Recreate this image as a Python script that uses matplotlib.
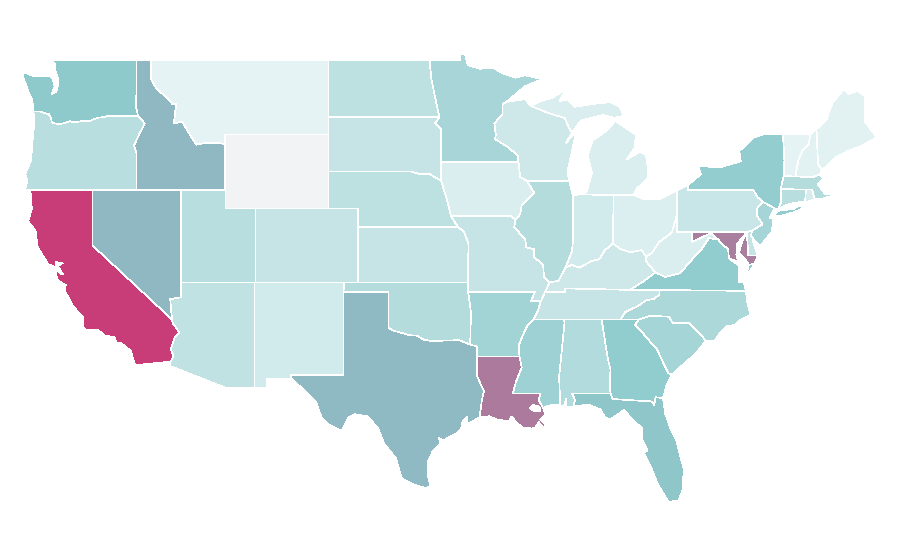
import matplotlib
matplotlib.use('Agg')
import matplotlib.pyplot as plt
from matplotlib.colors import LinearSegmentedColormap, Normalize

# rough value per state, read back from the fill colours
state_names = ['WA', 'OR', 'CA', 'NV', 'ID', 'MT', 'WY', 'UT', 'CO', 'AZ', 'NM', 'TX',
               'OK', 'KS', 'NE', 'SD', 'ND', 'MN', 'IA', 'MO', 'AR', 'LA', 'MS', 'AL',
               'GA', 'FL', 'SC', 'NC', 'TN', 'KY', 'IL', 'WI', 'MI', 'IN', 'OH', 'WV',
               'VA', 'MD', 'DE', 'PA', 'NJ', 'NY', 'CT', 'RI', 'MA', 'VT', 'NH', 'ME']
state_values = [40, 25, 100, 49, 49, 10, 0, 25, 21, 23, 17, 48,
                27, 21, 24, 21, 24, 31, 14, 21, 33, 70, 35, 28,
                39, 42, 32, 30, 21, 18, 27, 18, 14, 17, 13, 14,
                39, 68, 21, 20, 32, 38, 25, 15, 27, 10, 11, 11]

# colour scale
scale_values = [0, 10, 40, 50, 70, 100]
scale_colors = ['#F2F3F5', '#E5F3F4', '#8ECACC', '#8FB6C1', '#AB7A9C', '#C83C77']

# state outlines, (lon, lat)
outlines = {
    'WA': [[(-122.76, 49.0), (-117.03, 49.0), (-117.04, 46.42), (-116.92, 46.0), (-118.98, 46.0), (-119.3, 45.93),
            (-119.6, 45.92), (-120.2, 45.73), (-120.65, 45.74), (-121.2, 45.65), (-121.5, 45.72), (-122.0, 45.6),
            (-122.3, 45.55), (-122.75, 45.65), (-122.8, 45.9), (-122.95, 46.1), (-123.2, 46.15), (-123.55, 46.25),
            (-123.98, 46.25), (-124.05, 46.7), (-124.1, 46.9), (-124.35, 47.35), (-124.7, 48.15), (-124.72, 48.38),
            (-124.0, 48.17), (-123.1, 48.15), (-122.75, 48.12), (-122.55, 47.6), (-122.75, 47.2), (-122.45, 47.3),
            (-122.35, 47.6), (-122.3, 47.95), (-122.5, 48.4), (-122.5, 48.75)]],
    'OR': [[(-124.55, 42.0), (-117.03, 42.0), (-117.03, 44.0), (-117.2, 44.4), (-116.85, 45.0), (-116.47, 45.6),
            (-116.92, 46.0), (-118.98, 46.0), (-119.3, 45.93), (-119.6, 45.92), (-120.2, 45.73), (-120.65, 45.74),
            (-121.2, 45.65), (-121.5, 45.72), (-122.0, 45.6), (-122.3, 45.55), (-122.75, 45.65), (-122.8, 45.9),
            (-122.95, 46.1), (-123.2, 46.15), (-123.55, 46.25), (-123.98, 46.25), (-123.95, 45.5), (-124.05, 44.7),
            (-124.15, 43.6), (-124.55, 42.84), (-124.4, 42.5)]],
    'CA': [[(-124.2, 42.0), (-120.0, 42.0), (-120.0, 39.0), (-114.63, 35.0), (-114.57, 34.8), (-114.14, 34.3),
            (-114.43, 34.05), (-114.72, 33.4), (-114.52, 33.03), (-114.72, 32.72), (-117.12, 32.53), (-117.25, 32.85),
            (-117.4, 33.3), (-118.1, 33.75), (-118.4, 33.75), (-118.5, 34.03), (-119.2, 34.15), (-119.6, 34.42),
            (-120.5, 34.45), (-120.65, 34.6), (-120.65, 35.15), (-121.3, 35.7), (-121.9, 36.6), (-121.8, 36.85),
            (-122.05, 36.95), (-122.4, 37.2), (-122.5, 37.75), (-122.1, 37.45), (-122.0, 37.45), (-122.35, 37.9),
            (-122.0, 38.05), (-122.5, 38.1), (-122.5, 37.83), (-123.0, 38.0), (-123.7, 38.9), (-123.85, 39.8),
            (-124.35, 40.3), (-124.1, 41.0)],
           [(-120.1, 34.05), (-119.9, 34.07), (-119.9, 33.95), (-120.1, 33.93)],
           [(-119.75, 34.05), (-119.55, 34.05), (-119.55, 33.98), (-119.75, 33.98)],
           [(-118.5, 33.42), (-118.35, 33.4), (-118.35, 33.33), (-118.5, 33.35)]],
    'NV': [[(-120.0, 42.0), (-114.04, 42.0), (-114.04, 36.2), (-114.75, 36.1), (-114.63, 35.0), (-120.0, 39.0)]],
    'ID': [[(-117.03, 49.0), (-116.05, 49.0), (-116.05, 48.0), (-115.7, 47.5), (-115.0, 47.0), (-114.6, 46.65),
            (-114.35, 46.65), (-114.5, 45.6), (-113.95, 45.7), (-113.5, 45.1), (-113.0, 44.45), (-112.3, 44.55),
            (-111.5, 44.55), (-111.05, 44.47), (-111.05, 42.0), (-117.03, 42.0), (-117.03, 44.0), (-117.2, 44.4),
            (-116.85, 45.0), (-116.47, 45.6), (-116.92, 46.0), (-117.04, 46.42)]],
    'MT': [[(-116.05, 49.0), (-104.05, 49.0), (-104.05, 45.0), (-111.05, 45.0), (-111.05, 44.47), (-111.5, 44.55),
            (-112.3, 44.55), (-113.0, 44.45), (-113.5, 45.1), (-113.95, 45.7), (-114.5, 45.6), (-114.35, 46.65),
            (-114.6, 46.65), (-115.0, 47.0), (-115.7, 47.5), (-116.05, 48.0)]],
    'WY': [[(-111.05, 45.0), (-104.05, 45.0), (-104.05, 41.0), (-111.05, 41.0)]],
    'UT': [[(-114.04, 42.0), (-111.05, 42.0), (-111.05, 41.0), (-109.05, 41.0), (-109.05, 37.0), (-114.04, 37.0)]],
    'CO': [[(-109.05, 41.0), (-102.05, 41.0), (-102.05, 37.0), (-109.05, 37.0)]],
    'AZ': [[(-114.04, 37.0), (-109.05, 37.0), (-109.05, 31.33), (-111.07, 31.33), (-114.81, 32.5), (-114.72, 32.72),
            (-114.52, 33.03), (-114.72, 33.4), (-114.43, 34.05), (-114.14, 34.3), (-114.57, 34.8), (-114.63, 35.0),
            (-114.75, 36.1), (-114.04, 36.2)]],
    'NM': [[(-109.05, 37.0), (-103.0, 37.0), (-103.04, 32.0), (-106.62, 32.0), (-106.53, 31.78), (-108.2, 31.78),
            (-108.2, 31.33), (-109.05, 31.33)]],
    'TX': [[(-103.04, 36.5), (-100.0, 36.5), (-100.0, 34.56), (-99.7, 34.4), (-99.2, 34.3), (-98.6, 34.15),
            (-98.1, 34.13), (-97.6, 33.9), (-97.2, 33.85), (-96.6, 33.85), (-95.8, 33.87), (-95.2, 33.88),
            (-94.48, 33.64), (-94.04, 33.55), (-94.04, 33.0), (-94.04, 31.99), (-93.8, 31.55), (-93.55, 31.15),
            (-93.7, 30.6), (-93.75, 30.25), (-93.85, 29.7), (-94.7, 29.35), (-94.7, 29.75), (-95.0, 29.5),
            (-95.1, 29.1), (-95.3, 28.9), (-95.9, 28.65), (-96.3, 28.45), (-96.6, 28.6), (-96.5, 28.3), (-97.0, 27.9),
            (-97.35, 27.3), (-97.35, 26.6), (-97.15, 25.96), (-97.55, 25.9), (-98.2, 26.05), (-99.1, 26.4),
            (-99.5, 27.5), (-100.3, 28.3), (-100.7, 29.1), (-101.4, 29.77), (-102.3, 29.88), (-102.7, 29.7),
            (-103.15, 28.98), (-104.0, 29.3), (-104.5, 29.65), (-104.9, 30.55), (-106.0, 31.4), (-106.53, 31.78),
            (-106.62, 32.0), (-103.04, 32.0)]],
    'OK': [[(-103.0, 37.0), (-94.62, 37.0), (-94.62, 36.5), (-94.43, 35.4), (-94.48, 33.64), (-95.2, 33.88),
            (-95.8, 33.87), (-96.6, 33.85), (-97.2, 33.85), (-97.6, 33.9), (-98.1, 34.13), (-98.6, 34.15),
            (-99.2, 34.3), (-99.7, 34.4), (-100.0, 34.56), (-100.0, 36.5), (-103.04, 36.5)]],
    'KS': [[(-102.05, 40.0), (-95.31, 40.0), (-94.9, 39.75), (-94.6, 39.1), (-94.62, 37.0), (-102.05, 37.0)]],
    'NE': [[(-104.05, 43.0), (-98.5, 43.0), (-97.85, 42.85), (-97.2, 42.85), (-96.45, 42.5), (-96.1, 41.6),
            (-95.9, 41.0), (-95.31, 40.0), (-102.05, 40.0), (-102.05, 41.0), (-104.05, 41.0)]],
    'SD': [[(-104.05, 45.94), (-96.56, 45.94), (-96.85, 45.6), (-96.45, 45.3), (-96.45, 43.5), (-96.45, 42.5),
            (-97.2, 42.85), (-97.85, 42.85), (-98.5, 43.0), (-104.05, 43.0)]],
    'ND': [[(-104.05, 49.0), (-97.23, 49.0), (-97.1, 48.0), (-96.85, 47.0), (-96.56, 45.94), (-104.05, 45.94)]],
    'MN': [[(-97.23, 49.0), (-95.15, 49.0), (-95.15, 49.38), (-94.8, 49.3), (-94.65, 48.75), (-93.8, 48.55),
            (-92.95, 48.62), (-92.3, 48.3), (-91.4, 48.07), (-90.8, 48.2), (-89.6, 48.0), (-90.8, 47.6),
            (-92.05, 46.75), (-92.3, 46.65), (-92.3, 46.08), (-92.85, 45.6), (-92.75, 45.0), (-92.8, 44.75),
            (-91.9, 44.3), (-91.25, 43.85), (-91.22, 43.5), (-96.45, 43.5), (-96.45, 45.3), (-96.85, 45.6),
            (-96.56, 45.94), (-96.85, 47.0), (-97.1, 48.0)]],
    'IA': [[(-96.45, 43.5), (-91.22, 43.5), (-91.1, 42.7), (-90.65, 42.5), (-90.15, 41.85), (-91.0, 41.2),
            (-91.1, 40.7), (-91.42, 40.38), (-91.7, 40.6), (-95.77, 40.58), (-95.9, 41.0), (-96.1, 41.6),
            (-96.45, 42.5)]],
    'MO': [[(-95.77, 40.58), (-91.7, 40.6), (-91.42, 40.38), (-91.5, 40.0), (-90.75, 39.3), (-90.7, 38.9),
            (-90.15, 38.8), (-90.2, 38.4), (-89.55, 37.95), (-89.5, 37.3), (-89.13, 37.0), (-89.4, 36.5),
            (-89.7, 36.0), (-90.37, 36.0), (-90.1, 36.5), (-94.62, 36.5), (-94.62, 37.0), (-94.6, 39.1),
            (-94.9, 39.75), (-95.31, 40.0)]],
    'AR': [[(-94.62, 36.5), (-90.1, 36.5), (-90.37, 36.0), (-89.7, 36.0), (-89.9, 35.5), (-90.2, 35.0),
            (-90.6, 34.7), (-90.95, 34.1), (-91.2, 33.6), (-91.15, 33.0), (-94.04, 33.0), (-94.04, 33.55),
            (-94.48, 33.64), (-94.43, 35.4)]],
    'LA': [[(-94.04, 33.0), (-91.15, 33.0), (-91.0, 32.4), (-91.4, 31.6), (-91.6, 31.0), (-89.73, 31.0),
            (-89.85, 30.65), (-89.55, 30.2), (-89.4, 29.85), (-89.75, 29.6), (-89.4, 29.3), (-89.1, 29.0),
            (-89.55, 29.2), (-89.85, 29.45), (-90.1, 29.15), (-90.3, 29.1), (-90.65, 29.15), (-90.95, 29.15),
            (-91.35, 29.45), (-91.7, 29.75), (-91.85, 29.5), (-92.3, 29.55), (-92.7, 29.6), (-93.2, 29.77),
            (-93.85, 29.7), (-93.75, 30.25), (-93.7, 30.6), (-93.55, 31.15), (-93.8, 31.55), (-94.04, 31.99)]],
    'MS': [[(-91.15, 33.0), (-91.2, 33.6), (-90.95, 34.1), (-90.6, 34.7), (-90.2, 35.0), (-88.2, 35.0),
            (-88.1, 34.9), (-88.47, 31.9), (-88.4, 30.35), (-88.85, 30.4), (-89.35, 30.3), (-89.55, 30.2),
            (-89.85, 30.65), (-89.73, 31.0), (-91.6, 31.0), (-91.4, 31.6), (-91.0, 32.4)]],
    'AL': [[(-88.2, 35.0), (-85.6, 35.0), (-85.18, 32.87), (-85.0, 32.3), (-85.05, 31.55), (-85.0, 31.0),
            (-87.6, 31.0), (-87.4, 30.65), (-87.5, 30.3), (-88.0, 30.25), (-88.0, 30.7), (-88.15, 30.35),
            (-88.4, 30.35), (-88.47, 31.9), (-88.1, 34.9)]],
    'GA': [[(-85.6, 35.0), (-83.1, 35.0), (-83.35, 34.7), (-83.0, 34.45), (-82.5, 33.95), (-81.9, 33.45),
            (-81.4, 32.6), (-81.1, 32.1), (-80.85, 32.03), (-81.2, 31.5), (-81.45, 30.75), (-81.95, 30.8),
            (-82.05, 30.36), (-82.2, 30.57), (-84.86, 30.7), (-85.0, 31.0), (-85.05, 31.55), (-85.0, 32.3),
            (-85.18, 32.87)]],
    'FL': [[(-87.6, 31.0), (-85.0, 31.0), (-84.86, 30.7), (-82.2, 30.57), (-82.05, 30.36), (-81.95, 30.8),
            (-81.45, 30.75), (-81.3, 29.9), (-80.9, 29.0), (-80.55, 28.45), (-80.05, 26.9), (-80.13, 25.8),
            (-80.4, 25.2), (-81.1, 25.15), (-81.8, 26.1), (-82.2, 26.9), (-82.75, 27.8), (-82.5, 27.9),
            (-82.85, 28.5), (-82.85, 29.1), (-83.5, 29.6), (-84.1, 30.1), (-85.0, 29.6), (-85.35, 29.7),
            (-85.7, 30.15), (-86.5, 30.4), (-87.5, 30.3), (-87.4, 30.65)]],
    'SC': [[(-83.35, 34.7), (-83.1, 35.0), (-82.3, 35.2), (-81.05, 35.15), (-80.8, 34.82), (-79.67, 34.8),
            (-78.55, 33.86), (-79.2, 33.2), (-79.9, 32.7), (-80.85, 32.03), (-81.1, 32.1), (-81.4, 32.6),
            (-81.9, 33.45), (-82.5, 33.95), (-83.0, 34.45)]],
    'NC': [[(-84.32, 35.0), (-83.1, 35.0), (-82.3, 35.2), (-81.05, 35.15), (-80.8, 34.82), (-79.67, 34.8),
            (-78.55, 33.86), (-77.95, 33.85), (-77.6, 34.3), (-77.1, 34.65), (-76.6, 34.7), (-76.3, 34.95),
            (-75.55, 35.25), (-75.75, 35.9), (-75.85, 36.55), (-81.68, 36.59), (-81.7, 36.35), (-82.05, 36.12),
            (-82.6, 36.03), (-83.1, 35.75), (-84.0, 35.4)]],
    'TN': [[(-89.42, 36.5), (-88.07, 36.5), (-88.07, 36.68), (-83.68, 36.6), (-81.68, 36.59), (-81.7, 36.35),
            (-82.05, 36.12), (-82.6, 36.03), (-83.1, 35.75), (-84.0, 35.4), (-84.32, 35.0), (-88.2, 35.0),
            (-90.2, 35.0), (-89.9, 35.5), (-89.7, 36.0)]],
    'KY': [[(-89.4, 36.5), (-89.13, 37.0), (-88.5, 37.1), (-88.05, 37.8), (-87.6, 37.95), (-87.1, 37.8),
            (-86.3, 38.15), (-85.75, 38.27), (-85.4, 38.73), (-84.85, 39.1), (-84.3, 38.8), (-83.65, 38.63),
            (-82.9, 38.75), (-82.6, 38.4), (-82.6, 38.15), (-81.97, 37.54), (-82.7, 37.1), (-83.68, 36.6),
            (-88.07, 36.68), (-88.07, 36.5)]],
    'IL': [[(-90.65, 42.5), (-87.8, 42.5), (-87.55, 41.7), (-87.53, 39.35), (-87.6, 38.7), (-88.05, 37.8),
            (-88.5, 37.1), (-89.13, 37.0), (-89.5, 37.3), (-89.55, 37.95), (-90.2, 38.4), (-90.15, 38.8),
            (-90.7, 38.9), (-90.75, 39.3), (-91.5, 40.0), (-91.42, 40.38), (-91.1, 40.7), (-91.0, 41.2),
            (-90.15, 41.85)]],
    'WI': [[(-92.05, 46.75), (-91.2, 46.87), (-90.75, 46.9), (-90.4, 46.55), (-89.1, 46.13), (-88.1, 45.9),
            (-87.8, 45.35), (-87.6, 45.1), (-88.0, 44.55), (-87.3, 45.2), (-87.55, 44.3), (-87.9, 43.0),
            (-87.8, 42.5), (-90.65, 42.5), (-91.1, 42.7), (-91.22, 43.5), (-91.25, 43.85), (-91.9, 44.3),
            (-92.8, 44.75), (-92.75, 45.0), (-92.85, 45.6), (-92.3, 46.08), (-92.3, 46.65)]],
    'MI': [[(-86.8, 41.76), (-84.8, 41.72), (-83.45, 41.73), (-83.2, 42.1), (-82.5, 42.6), (-82.45, 43.0),
            (-82.6, 43.9), (-83.0, 44.07), (-83.9, 43.65), (-83.35, 44.3), (-83.3, 45.0), (-84.7, 45.75),
            (-85.0, 45.4), (-85.6, 45.0), (-86.2, 44.7), (-86.5, 44.0), (-86.5, 43.7), (-86.25, 42.9),
            (-86.6, 41.95)],
           [(-90.4, 46.55), (-89.1, 46.13), (-88.1, 45.9), (-87.8, 45.35), (-87.6, 45.1), (-87.0, 45.75),
            (-86.3, 45.9), (-85.5, 46.05), (-84.75, 45.9), (-84.1, 46.0), (-84.4, 46.5), (-85.0, 46.75),
            (-86.0, 46.67), (-87.4, 46.5), (-87.9, 46.9), (-88.45, 46.8), (-88.0, 47.45), (-88.9, 47.0),
            (-89.7, 46.8)],
           [(-89.2, 47.85), (-88.5, 48.17), (-88.75, 48.17), (-89.2, 47.95)]],
    'IN': [[(-87.53, 41.72), (-87.2, 41.75), (-86.8, 41.76), (-84.8, 41.72), (-84.82, 39.1), (-84.85, 39.1),
            (-85.4, 38.73), (-85.75, 38.27), (-86.3, 38.15), (-87.1, 37.8), (-87.6, 37.95), (-88.05, 37.8),
            (-87.6, 38.7), (-87.53, 39.35)]],
    'OH': [[(-84.8, 41.72), (-83.45, 41.73), (-82.7, 41.5), (-81.7, 41.5), (-80.52, 41.98), (-80.52, 40.64),
            (-80.85, 39.7), (-81.7, 39.2), (-82.2, 38.6), (-82.6, 38.4), (-82.9, 38.75), (-83.65, 38.63),
            (-84.3, 38.8), (-84.85, 39.1), (-84.82, 39.1)]],
    'WV': [[(-80.52, 40.64), (-80.52, 39.72), (-79.48, 39.72), (-79.48, 39.2), (-78.4, 39.6), (-78.2, 39.65),
            (-77.72, 39.32), (-78.35, 39.4), (-78.87, 38.77), (-79.3, 38.42), (-80.3, 37.5), (-81.3, 37.3),
            (-81.97, 37.54), (-82.6, 38.15), (-82.6, 38.4), (-82.2, 38.6), (-81.7, 39.2), (-80.85, 39.7)]],
    'VA': [[(-83.68, 36.6), (-81.68, 36.59), (-75.85, 36.55), (-76.0, 37.0), (-76.3, 37.0), (-76.3, 37.55),
            (-76.3, 37.9), (-77.0, 38.3), (-77.05, 38.8), (-77.5, 39.1), (-77.72, 39.32), (-78.35, 39.4),
            (-78.87, 38.77), (-79.3, 38.42), (-80.3, 37.5), (-81.3, 37.3), (-81.97, 37.54), (-82.7, 37.1)],
           [(-75.95, 37.15), (-75.65, 37.95), (-75.25, 38.03)]],
    'MD': [[(-79.48, 39.72), (-75.79, 39.72), (-76.1, 39.4), (-76.45, 39.1), (-76.5, 38.5), (-76.35, 38.05),
            (-76.6, 38.2), (-77.0, 38.3), (-77.05, 38.8), (-77.5, 39.1), (-77.72, 39.32), (-78.2, 39.65),
            (-78.4, 39.6), (-79.48, 39.2)],
           [(-75.79, 39.72), (-75.69, 38.46), (-75.05, 38.45), (-75.25, 38.03), (-75.65, 37.95), (-75.9, 38.25),
            (-76.3, 38.6), (-76.2, 39.0), (-76.0, 39.4)]],
    'DE': [[(-75.79, 39.72), (-75.45, 39.8), (-75.4, 39.3), (-75.05, 38.45), (-75.69, 38.46)]],
    'PA': [[(-80.52, 41.98), (-79.76, 42.27), (-79.76, 42.0), (-75.35, 42.0), (-75.05, 41.6), (-74.7, 41.36),
            (-75.13, 40.97), (-75.1, 40.6), (-74.72, 40.15), (-75.45, 39.8), (-75.79, 39.72), (-80.52, 39.72)]],
    'NJ': [[(-74.7, 41.36), (-73.9, 41.0), (-74.25, 40.5), (-74.0, 40.45), (-74.1, 39.75), (-74.9, 38.95),
            (-75.5, 39.5), (-75.45, 39.8), (-74.72, 40.15), (-75.1, 40.6), (-75.13, 40.97)]],
    'NY': [[(-79.76, 42.0), (-79.76, 42.27), (-78.9, 42.85), (-79.05, 43.27), (-77.5, 43.25), (-76.2, 43.55),
            (-76.3, 44.1), (-75.3, 44.85), (-74.7, 45.0), (-73.35, 45.0), (-73.25, 43.6), (-73.3, 42.75),
            (-73.5, 42.05), (-73.5, 41.3), (-73.65, 41.0), (-73.9, 41.0), (-74.7, 41.36), (-75.05, 41.6),
            (-75.35, 42.0)],
           [(-74.0, 40.6), (-73.7, 40.87), (-72.6, 40.98), (-72.3, 41.15), (-71.9, 41.05), (-72.6, 40.8),
            (-73.5, 40.6)]],
    'CT': [[(-73.5, 42.05), (-72.8, 42.03), (-71.8, 42.02), (-71.8, 41.4), (-72.9, 41.25), (-73.65, 41.0),
            (-73.5, 41.3)]],
    'RI': [[(-71.8, 42.02), (-71.38, 42.02), (-71.2, 41.5), (-71.85, 41.32)]],
    'MA': [[(-73.3, 42.75), (-71.3, 42.7), (-71.0, 42.87), (-70.6, 42.65), (-71.0, 42.3), (-70.65, 41.95),
            (-70.55, 41.8), (-70.0, 41.8), (-70.0, 42.05), (-70.2, 42.05), (-69.95, 41.7), (-70.6, 41.55),
            (-71.1, 41.5), (-71.2, 41.5), (-71.38, 42.02), (-71.8, 42.02), (-73.5, 42.05)]],
    'VT': [[(-73.35, 45.0), (-71.5, 45.0), (-71.6, 44.5), (-72.05, 44.1), (-72.3, 43.6), (-72.45, 43.0),
            (-72.46, 42.73), (-73.3, 42.75), (-73.25, 43.6)]],
    'NH': [[(-71.5, 45.0), (-71.08, 45.3), (-70.98, 43.4), (-70.7, 43.07), (-70.82, 42.87), (-71.3, 42.7),
            (-72.46, 42.73), (-72.45, 43.0), (-72.3, 43.6), (-72.05, 44.1), (-71.6, 44.5)]],
    'ME': [[(-71.08, 45.3), (-70.4, 45.8), (-70.25, 46.2), (-70.0, 46.7), (-69.23, 47.46), (-68.9, 47.2),
            (-68.3, 47.35), (-67.8, 47.07), (-67.8, 45.7), (-67.45, 45.3), (-67.0, 44.85), (-68.0, 44.4),
            (-69.0, 44.1), (-69.8, 43.75), (-70.7, 43.07), (-70.98, 43.4)]],
}

# lakes cut out of the fills
lake_pontchartrain = [(-90.45, 30.2), (-90.2, 30.38), (-89.8, 30.28), (-89.75, 30.05), (-90.1, 30.02)]

norm = Normalize(0, 100)
cmap = LinearSegmentedColormap.from_list(
    'rates', [(norm(v), c) for v, c in zip(scale_values, scale_colors)])

fig = plt.figure(figsize=(9, 5.6), dpi=100)
ax = fig.add_axes([0, 0, 1, 1])

for name, value in zip(state_names, state_values):
    for ring in outlines[name]:
        lons, lats = zip(*ring)
        ax.fill(lons, lats, facecolor=cmap(norm(value)), edgecolor='white',
                linewidth=0.5, antialiased=False)

lons, lats = zip(*lake_pontchartrain)
ax.fill(lons, lats, facecolor='white', edgecolor='white', linewidth=0.5, antialiased=False)

# plain lon/lat stretch, picture has straight parallels
ax.set_xlim(-126.25, -65.44)
ax.set_ylim(22.0, 52.27)
ax.axis('off')

fig.savefig('out.png', dpi=100)
